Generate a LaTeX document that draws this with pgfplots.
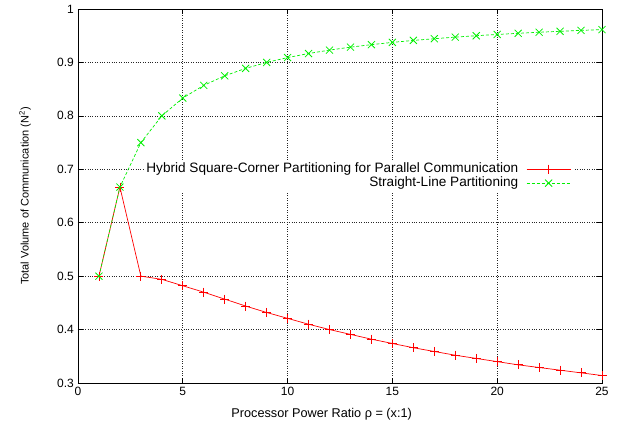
\documentclass[border=0pt]{standalone}
\usepackage{fontspec}
\setmainfont{Liberation Sans}
\usepackage{pgfplots}
\pgfplotsset{compat=1.18}
\definecolor{gpred}{RGB}{255,0,0}
\definecolor{gpgreen}{RGB}{0,240,0}
\begin{document}
\fontsize{12}{14}\selectfont
\begin{tikzpicture}
\useasboundingbox (-78pt,-49pt) rectangle (541pt,383pt);
\begin{axis}[
  at={(0pt,0pt)}, anchor=south west,
  scale only axis, width=524pt, height=374pt,
  xmin=0, xmax=25, ymin=0.3, ymax=1,
  xtick={0,5,10,15,20,25},
  ytick={0.3,0.4,0.5,0.6,0.7,0.8,0.9,1},
  /pgf/number format/assume math mode=true,
  yticklabel style={/pgf/number format/fixed,/pgf/number format/precision=1},
  tick align=inside, major tick length=5pt,
  tick style={black, line width=0.6pt},
  axis line style={black, line width=0.8pt},
  grid=major,
  grid style={black!85, dotted, line width=0.6pt},
  xlabel={\fontsize{12.7}{14}\selectfont Processor Power Ratio ρ = (x:1)},
  ylabel={\fontsize{11}{13}\selectfont Total Volume of Communication (N\textsuperscript{2})},
  xlabel style={at={(axis description cs:0.465,-0.083)}, anchor=center},
  ylabel style={at={(axis description cs:-0.101,0.5)}, anchor=center},
  legend cell align=right,
  legend plot pos=right,
  legend style={at={(axis description cs:0.945,0.595)}, anchor=north east,
    draw=none, fill=white, inner sep=2pt, row sep=1pt,
    nodes={inner sep=0pt, text height=10pt, text depth=3pt}},
  legend image code/.code={\draw[#1,mark repeat=2,mark phase=2] plot coordinates {(0pt,0pt) (22pt,0pt) (44pt,0pt)};},
]
\addplot[color=gpred, line width=0.7pt, mark=+, mark size=4.5pt, mark options={solid, line width=0.8pt}] coordinates {
(1,0.5) (2,0.6667) (3,0.500) (4,0.494) (5,0.482) (6,0.470) (7,0.457) (8,0.444)
(9,0.432) (10,0.421) (11,0.410) (12,0.400) (13,0.391) (14,0.382) (15,0.374)
(16,0.366) (17,0.359) (18,0.352) (19,0.346) (20,0.340) (21,0.334) (22,0.329)
(23,0.324) (24,0.319) (25,0.314)};
\addlegendentry{\fontsize{13.6}{15}\selectfont Hybrid Square-Corner Partitioning for Parallel Communication\kern8pt}
\addplot[color=gpgreen, line width=0.7pt, dash pattern=on 3pt off 2pt, mark=x, mark size=5pt, mark options={solid, line width=0.8pt}] coordinates {
(1,0.5) (2,0.6667) (3,0.75) (4,0.8) (5,0.8333) (6,0.8571) (7,0.875) (8,0.8889)
(9,0.9) (10,0.9091) (11,0.9167) (12,0.9231) (13,0.9286) (14,0.9333) (15,0.9375)
(16,0.9412) (17,0.9444) (18,0.9474) (19,0.95) (20,0.9524) (21,0.9545) (22,0.9565)
(23,0.9583) (24,0.96) (25,0.9615)};
\addlegendentry{\fontsize{13.6}{15}\selectfont Straight-Line Partitioning\kern8pt}
\end{axis}
\end{tikzpicture}
\end{document}
